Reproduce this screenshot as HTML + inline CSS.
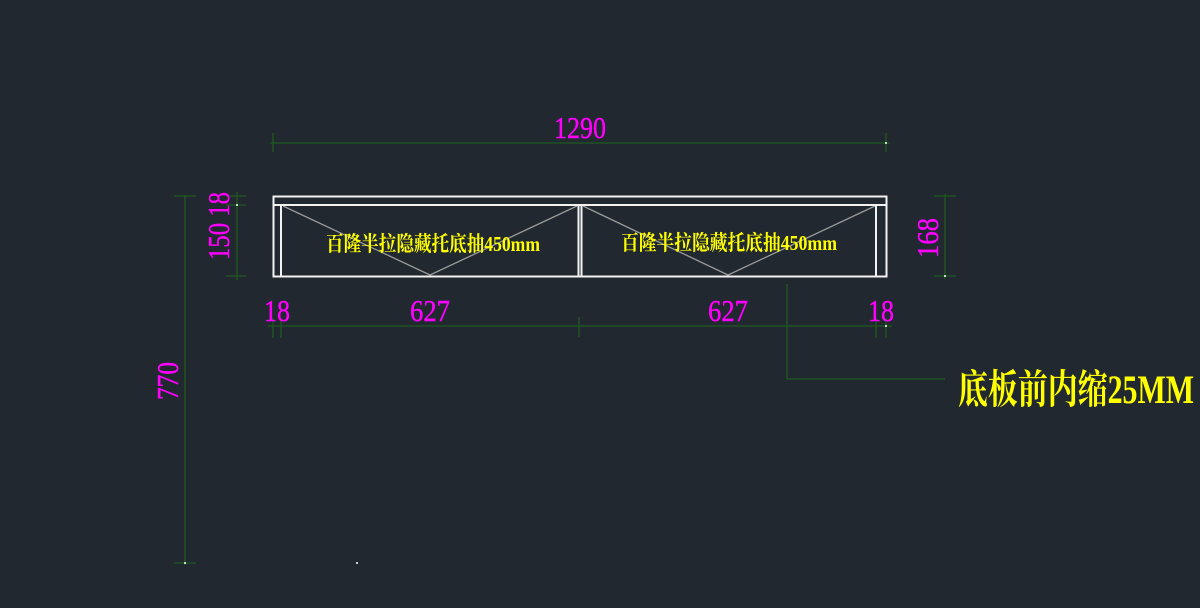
<!DOCTYPE html>
<html><head><meta charset="utf-8"><style>
html,body{margin:0;padding:0;background:#212830;}
svg{display:block}
.m{fill:#ff00ff;font-family:"Liberation Serif",serif;stroke:#ff00ff;stroke-width:0.4;}
.y{fill:#ffff00;font-family:"Liberation Serif","Noto Serif CJK SC",serif;font-weight:bold;}
</style></head><body>
<svg width="1200" height="608" viewBox="0 0 1200 608" xmlns="http://www.w3.org/2000/svg">
<rect width="1200" height="608" fill="#212830"/>
<g stroke="#1f5a1f" stroke-width="1.3" fill="none">
  <line x1="270" y1="143" x2="890" y2="143"/>
  <line x1="273" y1="133" x2="273" y2="152"/>
  <line x1="886" y1="133" x2="886" y2="152"/>
  <line x1="185" y1="195" x2="185" y2="565"/>
  <line x1="174" y1="196" x2="196" y2="196"/>
  <line x1="174" y1="563" x2="196" y2="563"/>
  <line x1="237" y1="192" x2="237" y2="280"/>
  <line x1="226" y1="196" x2="246" y2="196"/>
  <line x1="226" y1="205" x2="246" y2="205"/>
  <line x1="226" y1="276" x2="246" y2="276"/>
  <line x1="945" y1="194" x2="945" y2="279"/>
  <line x1="934" y1="196" x2="956" y2="196"/>
  <line x1="934" y1="276" x2="956" y2="276"/>
  <line x1="268" y1="326" x2="892" y2="326"/>
  <line x1="273" y1="318" x2="273" y2="338"/>
  <line x1="281" y1="318" x2="281" y2="338"/>
  <line x1="579" y1="317" x2="579" y2="337"/>
  <line x1="876" y1="318" x2="876" y2="338"/>
  <line x1="886" y1="318" x2="886" y2="338"/>
  <polyline points="787,284 787,379 945,379"/>
</g>
<g fill="#fff">
  <circle cx="886" cy="143" r="1"/><circle cx="185" cy="563" r="1"/><circle cx="357" cy="563" r="1"/>
  <circle cx="237" cy="205" r="1"/><circle cx="945" cy="276" r="1"/><circle cx="886" cy="326" r="1"/>
</g>
<g stroke="#9a9a9a" stroke-width="1.3" fill="none">
  <polyline points="283,206 430,275 577,206"/>
  <polyline points="583,206 728,275 875,206"/>
</g>
<g stroke="#f2f2f2" stroke-width="2" fill="none">
  <rect x="273.5" y="196.5" width="613" height="80"/>
  <line x1="273" y1="205" x2="887" y2="205"/>
  <line x1="281" y1="205" x2="281" y2="276"/>
  <line x1="578.5" y1="205" x2="578.5" y2="276"/>
  <line x1="581.5" y1="205" x2="581.5" y2="276"/>
  <line x1="876" y1="205" x2="876" y2="276"/>
</g>
<text class="y" x="433" y="251" font-size="21" text-anchor="middle" textLength="214" lengthAdjust="spacingAndGlyphs">百隆半拉隐藏托底抽450mm</text>
<text class="y" x="729" y="250" font-size="21" text-anchor="middle" textLength="216" lengthAdjust="spacingAndGlyphs">百隆半拉隐藏托底抽450mm</text>
<text class="y" x="958" y="403" font-size="40" textLength="236" lengthAdjust="spacingAndGlyphs">底板前内缩25MM</text>
<text class="m" x="580" y="138" font-size="31" text-anchor="middle" textLength="52" lengthAdjust="spacingAndGlyphs">1290</text>
<text class="m" x="277" y="321" font-size="31" text-anchor="middle" textLength="26" lengthAdjust="spacingAndGlyphs">18</text>
<text class="m" x="430" y="321" font-size="31" text-anchor="middle" textLength="40" lengthAdjust="spacingAndGlyphs">627</text>
<text class="m" x="728" y="321" font-size="31" text-anchor="middle" textLength="40" lengthAdjust="spacingAndGlyphs">627</text>
<text class="m" x="881" y="321" font-size="31" text-anchor="middle" textLength="26" lengthAdjust="spacingAndGlyphs">18</text>
<text class="m" transform="translate(178,381) rotate(-90)" font-size="31" text-anchor="middle" textLength="38" lengthAdjust="spacingAndGlyphs">770</text>
<text class="m" transform="translate(229,226) rotate(-90)" font-size="31" text-anchor="middle" textLength="68" lengthAdjust="spacingAndGlyphs">150 18</text>
<text class="m" transform="translate(938,238) rotate(-90)" font-size="31" text-anchor="middle" textLength="40" lengthAdjust="spacingAndGlyphs">168</text>
</svg>
</body></html>
